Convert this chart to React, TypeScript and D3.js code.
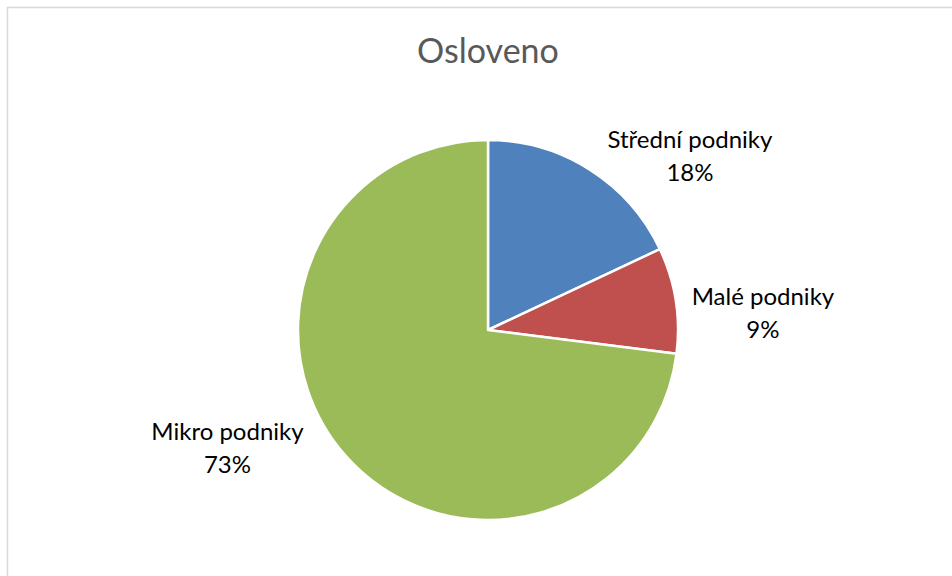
import React from "react";
import * as d3 from "d3";

const title = "Osloveno";
const categories = ["Střední podniky", "Malé podniky", "Mikro podniky"];
const values = [18, 9, 73];
const colors = ["#4f81bd", "#c0504d", "#9bbb59"];

const W = 952;
const H = 576;
const FONT = "Lato, 'Open Sans', sans-serif";

export default function App() {
  const cx = 488;
  const cy = 330;
  const r = 190;
  const data = categories.map((c, i) => ({ c, v: values[i], color: colors[i] }));
  const pie = d3.pie<any>().value((d) => d.v).sort(null);
  const arcs = pie(data);
  const arc = d3.arc<any>().innerRadius(0).outerRadius(r);
  const total = d3.sum(values);

  // label placement: radial position from arc mid-angle plus tweaks
  const labelTweak: Record<string, [number, number]> = {
    "Střední podniky": [68, 35],
    "Malé podniky": [28, 20],
    "Mikro podniky": [-73, -49],
  };

  return (
    <svg
      width={W}
      height={H}
      style={{ position: "absolute", left: 0, top: 0, background: "#fff" }}
    >
      <rect x={7.5} y={7.5} width={W + 10} height={H + 10} fill="#fff" stroke="#d9d9d9" strokeWidth={1.5} />
      <text x={cx} y={63} textAnchor="middle" fontFamily={FONT} fontSize={34} fill="#595959">
        {title}
      </text>
      <g transform={`translate(${cx},${cy})`}>
        {arcs.map((a, i) => (
          <path key={i} d={arc(a) as string} fill={a.data.color} stroke="#fff" strokeWidth={2.5} strokeLinejoin="round" />
        ))}
        {arcs.map((a, i) => {
          const mid = (a.startAngle + a.endAngle) / 2;
          const lr = r + 60;
          const [tx, ty] = labelTweak[a.data.c] || [0, 0];
          const x = Math.sin(mid) * lr + tx;
          const y = -Math.cos(mid) * lr + ty;
          const pct = Math.round((a.data.v / total) * 100) + "%";
          return (
            <text key={"l" + i} x={x} y={y} textAnchor="middle" fontFamily={FONT} fontSize={24} fill="#000">
              <tspan x={x} dy={-6}>{a.data.c}</tspan>
              <tspan x={x} dy={33}>{pct}</tspan>
            </text>
          );
        })}
      </g>
    </svg>
  );
}
